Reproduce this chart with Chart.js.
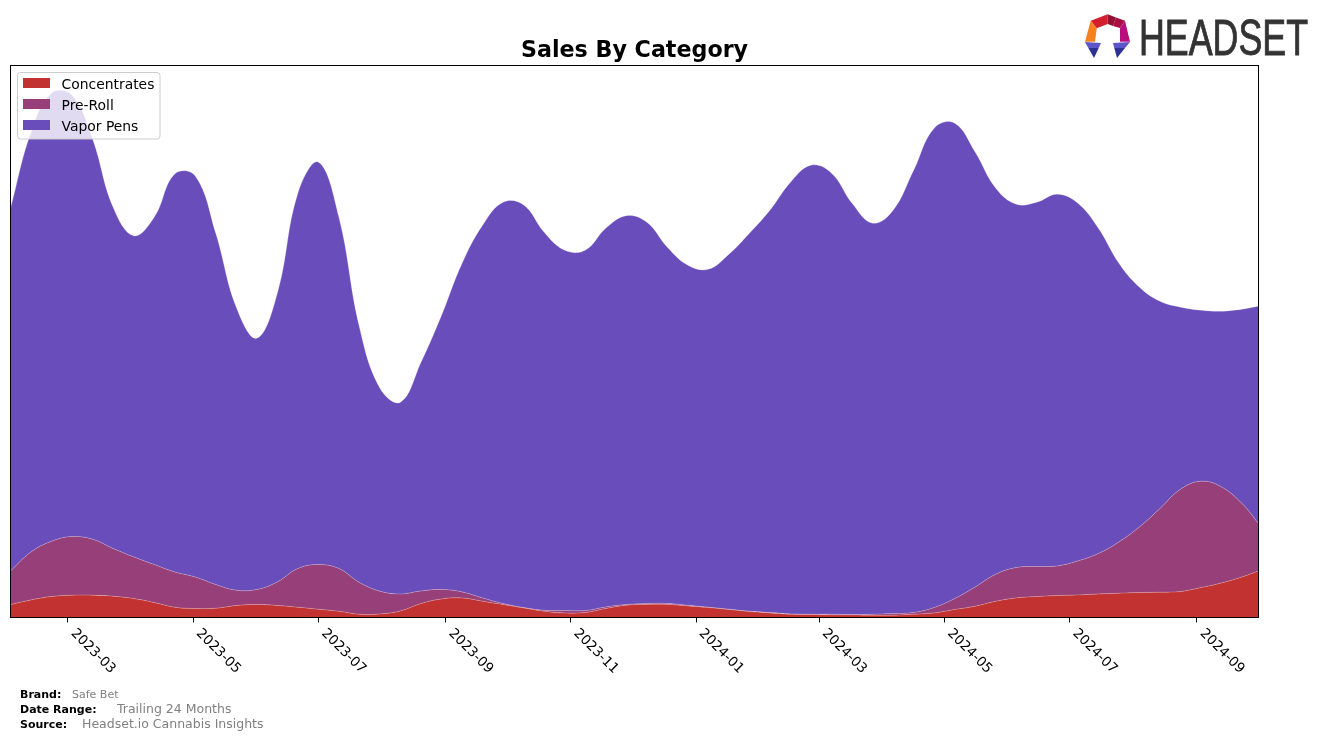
<!DOCTYPE html>
<html>
<head>
<meta charset="utf-8">
<script src="https://cdn.jsdelivr.net/npm/chart.js@4/dist/chart.umd.min.js"></script>
<style>
  body { margin: 0; background: #fff; font-family: "DejaVu Sans", sans-serif; }
  #wrap { position: relative; width: 1322px; height: 740px; overflow: hidden; }
  canvas { position: absolute; left: 0; top: 0; }
  .foot { position: absolute; white-space: nowrap; color: #808080; line-height: 1; }
  .foot b { position: absolute; left: 0; top: 0; color: #000; font-size: 11px; }
  #logo { position: absolute; left: 1080px; top: 8px; }
</style>
</head>
<body>
<div id="wrap">
  <canvas id="salesChart" width="1322" height="740"></canvas>
  <div class="foot" style="left:20px;top:689px;font-size:11px;width:200px"><b>Brand:</b><span style="margin-left:52px">Safe Bet</span></div>
  <div class="foot" style="left:20px;top:703px;font-size:12.5px;width:300px"><b style="top:1px">Date Range:</b><span style="margin-left:97px">Trailing 24 Months</span></div>
  <div class="foot" style="left:20px;top:718px;font-size:12.5px;width:300px"><b style="top:1px">Source:</b><span style="margin-left:62px">Headset.io Cannabis Insights</span></div>
  <svg id="logo" width="240" height="56" viewBox="0 0 240 56">
    <polygon points="27.7,6.3 10.7,12.7 16.7,20.3 27.7,16" fill="#d3202f"/>
    <polygon points="27.7,6.3 36,9.5 33,18 27.7,16" fill="#8e1233"/>
    <polygon points="36,9.5 45,12.7 40,20 33,18" fill="#a90f3f"/>
    <polygon points="10.7,12.7 5,33.7 15,33.7 16.7,20.3" fill="#f5811f"/>
    <polygon points="45,12.7 50,33.7 40,33.7 40,20" fill="#b80f7e"/>
    <polygon points="5,34 21,35 18.7,40 8.4,40" fill="#5b55c9"/>
    <polygon points="8.4,40 18.7,40 14,50" fill="#2e3192"/>
    <polygon points="33,35 50,34 45,40 34.3,40" fill="#5b55c9"/>
    <polygon points="34.3,40 45,40 37,50" fill="#2e3192"/>
    <text x="59" y="47" font-family="Liberation Sans Narrow, Liberation Sans" font-size="50" fill="#333" stroke="#333" stroke-width="0.9" textLength="169" lengthAdjust="spacingAndGlyphs">HEADSET</text>
  </svg>
</div>
<script>
const chartTitle = 'Sales By Category';
const startDate = '2023-02-01';

// days after startDate, one sample every 10 days
const sampleDays = [0, 10, 20, 30, 40, 50, 60, 70, 80, 90, 100, 110, 120, 130, 140, 150, 160, 170, 180, 190,
  200, 210, 220, 230, 240, 250, 260, 270, 280, 290, 300, 310, 320, 330, 340, 350, 360, 370, 380, 390,
  400, 410, 420, 430, 440, 450, 460, 470, 480, 490, 500, 510, 520, 530, 540, 550, 560, 570, 580, 590, 600, 608];

const tickDays = [28, 89, 150, 212, 273, 334, 394, 455, 516, 578];
const tickLabels = ['2023-03', '2023-05', '2023-07', '2023-09', '2023-11', '2024-01', '2024-03', '2024-05', '2024-07', '2024-09'];

const categories = ['Concentrates', 'Pre-Roll', 'Vapor Pens'];
const colors = ['#c13230', '#963f78', '#694dbb'];

const concentrates = [13, 17.6, 21, 22.3, 22.3, 21.3, 19, 15, 10.3, 9, 9.3, 12, 13, 12, 10.3, 8.3, 6.3, 3.3, 3.6, 6.6,
  14, 18.6, 19.6, 16.3, 13, 9.6, 6.3, 4.6, 5, 9, 12.3, 13, 13, 11.6, 10, 8, 6, 4.6, 3.3, 3,
  2.6, 2.6, 2.3, 2.3, 3.3, 4.6, 8, 11.3, 16.3, 19.6, 21, 22, 22.6, 23.6, 24.3, 25, 25.3, 26, 30, 34.6, 40.6, 46.6];
const preRoll = [33.6, 48, 55.3, 58.7, 56, 47.7, 41.6, 38, 35.3, 31.6, 23.7, 15.3, 15, 23.6, 38.7, 44.7, 42.7, 31.7, 22.7, 17,
  12.6, 9.4, 6, 3.3, 1, 0.3, 1, 2.4, 2, 1.6, 0.7, 1, 1, 0.7, 0.3, 0.3, 0.3, 0.4, 0.3, 0.3,
  0.7, 0.4, 1, 1.7, 1.7, 5.4, 11, 19.3, 27, 30.4, 30, 29.6, 34, 40.4, 51.3, 65.6, 83.7, 102.3, 106.3, 96, 73.4, 47.4];
const vaporPens = [362.7, 419.7, 448, 441.3, 400, 341.3, 321.2, 347.3, 398, 401, 351.3, 283, 251.3, 288.7, 375.3, 402.3, 351.3, 255.3, 203, 191.7,
  228.7, 274.3, 328.7, 372.7, 401.3, 402.7, 378, 360.3, 360.3, 378.7, 388.8, 381.3, 356.3, 340, 338, 355, 378, 402.3, 431.7, 449,
  441, 411.3, 391, 403.3, 442.3, 479.3, 475.3, 434.7, 386, 363.3, 364.3, 371.7, 357.7, 325.3, 278.7, 239.7, 207.3, 182, 171, 175.7, 194.3, 217.3];
const seriesValues = [concentrates, preRoll, vaporPens];

const baseFont = '"DejaVu Sans", sans-serif';

// frame round the plot, and the legend on top of the areas
const framePlugin = {
  id: 'frame',
  afterDatasetsDraw(chart) {
    const { ctx, chartArea: a } = chart;
    ctx.save();
    ctx.strokeStyle = '#000';
    ctx.lineWidth = 1;
    ctx.strokeRect(a.left, a.top, a.right - a.left, a.bottom - a.top);

    ctx.beginPath();
    ctx.roundRect(17.5, 72.5, 142.5, 66.5, 3);
    ctx.fillStyle = 'rgba(255,255,255,0.8)';
    ctx.fill();
    ctx.strokeStyle = '#ccc';
    ctx.stroke();

    ctx.font = '13.9px ' + baseFont;
    ctx.textBaseline = 'middle';
    categories.forEach((name, i) => {
      const y = 83 + i * 21;
      ctx.fillStyle = colors[i];
      ctx.fillRect(23, y - 5, 27, 10);
      ctx.fillStyle = '#000';
      ctx.fillText(name, 61.5, y + 2.5);
    });
    ctx.restore();
  }
};

new Chart(document.getElementById('salesChart'), {
  type: 'line',
  data: {
    datasets: categories.map((name, i) => ({
      label: name,
      data: sampleDays.map((d, j) => ({ x: d, y: seriesValues[i][j] })),
      backgroundColor: colors[i],
      borderColor: 'rgba(255,255,255,0.3)',
      borderWidth: 0.8,
      pointRadius: 0,
      tension: 0.4,
      fill: i === 0 ? 'origin' : '-1'
    }))
  },
  options: {
    responsive: false,
    animation: false,
    layout: { padding: { left: 10.5, right: 63.5, top: 37.7, bottom: 12.5 } },
    plugins: {
      legend: { display: false },
      tooltip: { enabled: false },
      title: {
        display: true,
        text: chartTitle,
        fullSize: false,
        color: '#000',
        font: { family: baseFont, size: 22.2, weight: 'bold' },
        padding: { top: 0, bottom: 1.16 }
      }
    },
    scales: {
      x: {
        type: 'linear',
        min: sampleDays[0],
        max: sampleDays[sampleDays.length - 1],
        afterBuildTicks(scale) {
          scale.ticks = tickDays.map(d => ({ value: d }));
          // labels hang from their start, below and to the right of the tick
          scale._getXAxisLabelAlignment = () => 'left';
        },
        afterFit(scale) { scale.height = 110; },
        grid: { drawOnChartArea: false, tickColor: '#000', tickLength: 5, tickWidth: 1 },
        border: { display: false },
        ticks: {
          autoSkip: false,
          minRotation: -45,
          maxRotation: -45,
          padding: 3,
          labelOffset: 5,
          color: '#000',
          font: { family: baseFont, size: 13.6 },
          callback: (v, i) => tickLabels[i]
        }
      },
      y: { display: false, stacked: true, min: 0, max: 552 }
    }
  },
  plugins: [framePlugin]
});
</script>
</body>
</html>
